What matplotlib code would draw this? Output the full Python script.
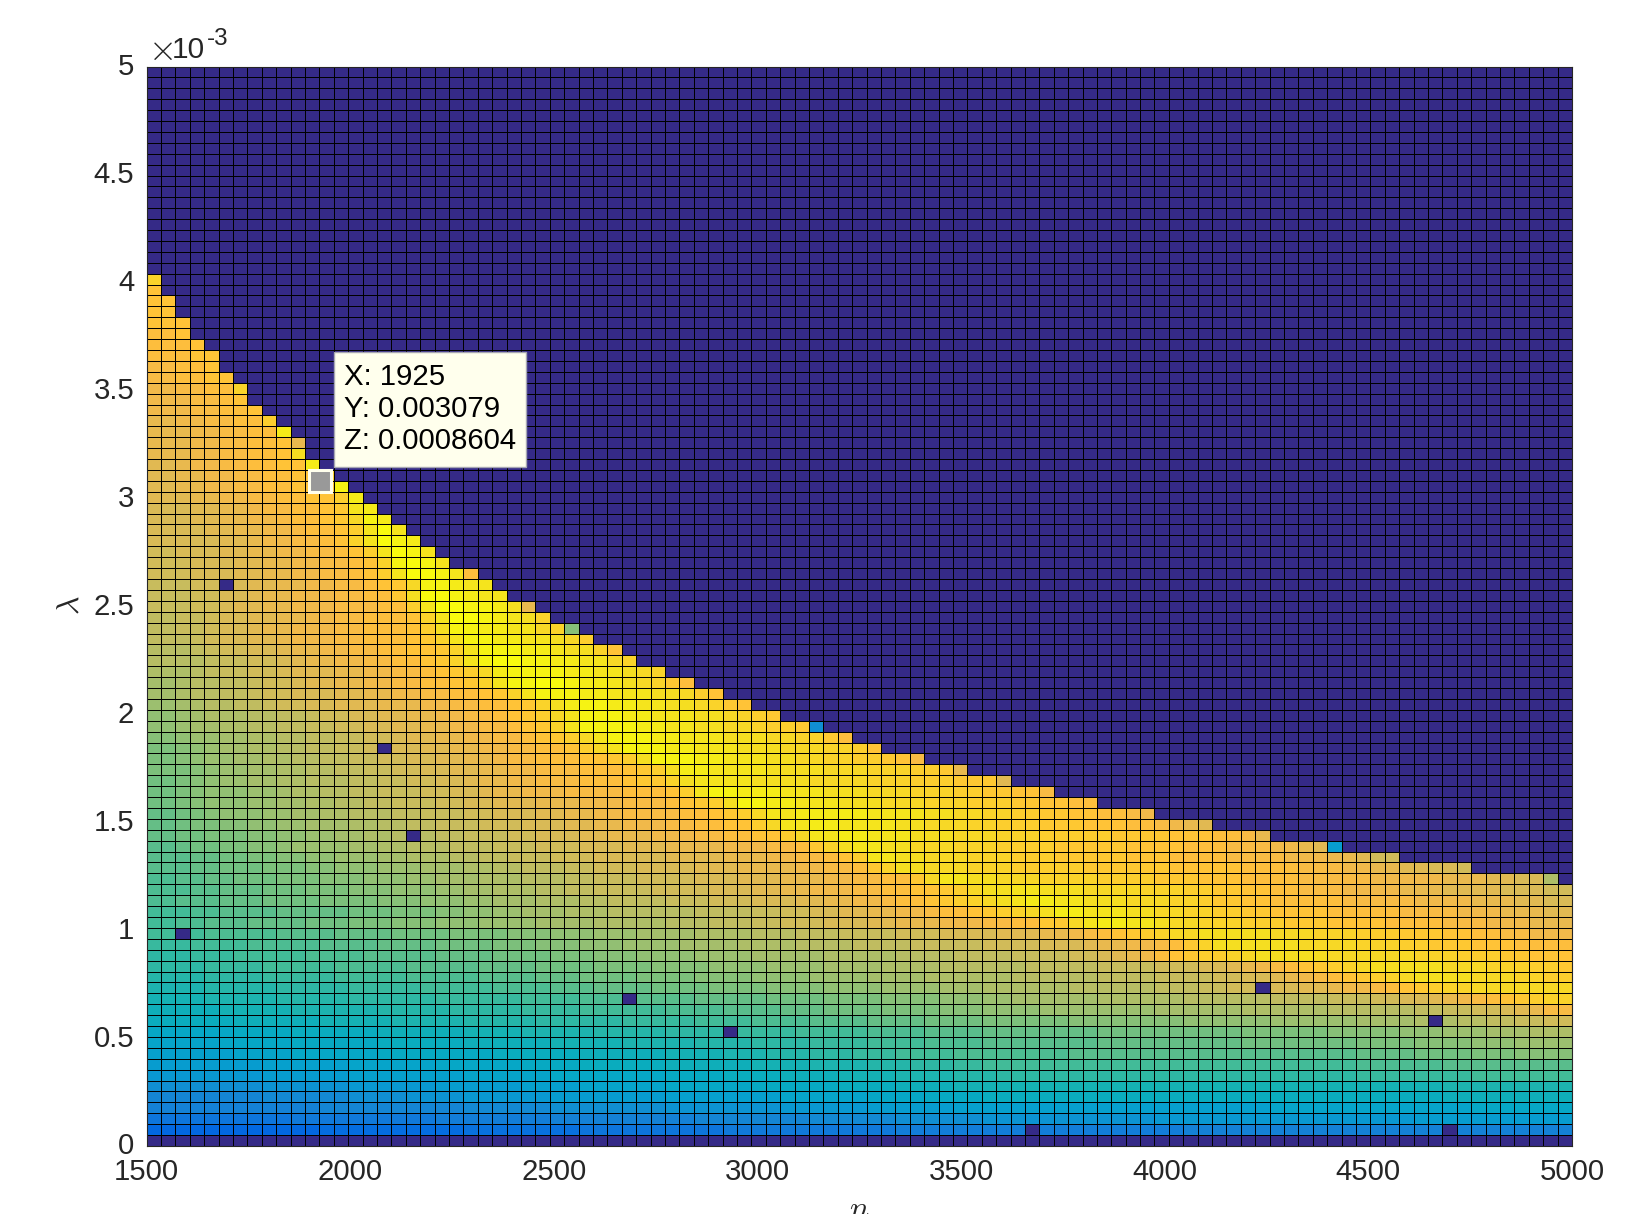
import numpy as np
import matplotlib
matplotlib.use('Agg')
import matplotlib.pyplot as plt
from matplotlib.colors import ListedColormap
from matplotlib.transforms import ScaledTranslation

plt.rcParams['font.family'] = ['Liberation Sans', 'DejaVu Sans']
plt.rcParams['mathtext.fontset'] = 'cm'

# parula, old matlab version, the 64 entries
parula = [
    (0.2081, 0.1663, 0.5292), (0.2116, 0.1898, 0.5777), (0.2123, 0.2138, 0.6270), (0.2081, 0.2386, 0.6771),
    (0.1959, 0.2645, 0.7279), (0.1707, 0.2919, 0.7792), (0.1253, 0.3242, 0.8303), (0.0591, 0.3598, 0.8683),
    (0.0117, 0.3875, 0.8820), (0.0060, 0.4086, 0.8828), (0.0165, 0.4266, 0.8786), (0.0329, 0.4430, 0.8720),
    (0.0498, 0.4586, 0.8641), (0.0629, 0.4737, 0.8554), (0.0723, 0.4887, 0.8467), (0.0779, 0.5040, 0.8384),
    (0.0793, 0.5200, 0.8312), (0.0749, 0.5375, 0.8263), (0.0641, 0.5570, 0.8240), (0.0488, 0.5772, 0.8228),
    (0.0343, 0.5966, 0.8199), (0.0265, 0.6137, 0.8135), (0.0239, 0.6287, 0.8038), (0.0231, 0.6418, 0.7913),
    (0.0228, 0.6535, 0.7768), (0.0267, 0.6642, 0.7607), (0.0384, 0.6743, 0.7436), (0.0590, 0.6838, 0.7254),
    (0.0843, 0.6928, 0.7062), (0.1133, 0.7015, 0.6859), (0.1453, 0.7098, 0.6646), (0.1801, 0.7177, 0.6424),
    (0.2178, 0.7250, 0.6193), (0.2586, 0.7317, 0.5954), (0.3022, 0.7376, 0.5712), (0.3482, 0.7424, 0.5473),
    (0.3953, 0.7459, 0.5244), (0.4420, 0.7481, 0.5033), (0.4871, 0.7491, 0.4840), (0.5300, 0.7491, 0.4661),
    (0.5709, 0.7485, 0.4494), (0.6099, 0.7473, 0.4337), (0.6473, 0.7456, 0.4188), (0.6834, 0.7435, 0.4044),
    (0.7184, 0.7411, 0.3905), (0.7525, 0.7384, 0.3768), (0.7858, 0.7356, 0.3633), (0.8185, 0.7327, 0.3498),
    (0.8507, 0.7299, 0.3360), (0.8824, 0.7274, 0.3217), (0.9139, 0.7258, 0.3063), (0.9450, 0.7261, 0.2886),
    (0.9739, 0.7314, 0.2666), (0.9938, 0.7455, 0.2403), (0.9990, 0.7653, 0.2164), (0.9955, 0.7861, 0.1967),
    (0.9880, 0.8066, 0.1794), (0.9789, 0.8271, 0.1633), (0.9697, 0.8481, 0.1475), (0.9626, 0.8705, 0.1309),
    (0.9589, 0.8949, 0.1132), (0.9598, 0.9218, 0.0948), (0.9661, 0.9514, 0.0755), (0.9763, 0.9831, 0.0538),
]

n_values = np.linspace(1500, 5000, 100)
lambda_values = np.linspace(0, 0.005, 100)

# colour level read per cell, one string per row from lambda=0 upward
# each token is level:end_column, whatever is past the last token stays 0
row_levels = [
    "0:99",
    "9:12 10:22 11:30 12:40 13:52 14:72 15:99",
    "12:10 13:20 14:28 15:38 16:46 17:52 18:58 19:70 20:88 21:99",
    "15:12 16:22 17:28 18:36 19:44 20:50 21:56 22:78 23:92 24:99",
    "16:8 17:14 18:18 19:22 20:28 21:36 22:44 23:50 24:54 25:58 26:90 27:99",
    "18:8 19:14 20:20 21:26 22:30 23:36 24:42 25:48 26:52 27:56 28:90 29:99",
    "20:8 21:14 22:22 23:28 24:36 25:40 26:44 27:48 28:52 29:56 30:59 31:84 32:92 33:99",
    "21:8 22:14 23:20 24:26 25:30 26:36 27:42 28:46 29:50 30:53 31:56 32:58 33:84 34:90 35:99",
    "22:6 23:10 24:16 25:24 26:30 27:36 28:40 29:43 30:46 31:49 32:52 33:56 34:64 35:84 36:88 37:92 38:95 39:99",
    "23:5 24:10 25:16 26:22 27:28 28:33 29:38 30:42 31:46 32:50 33:54 34:58 35:66 36:76 37:84 38:88 39:92 40:95 41:99",
    "24:6 25:10 26:16 27:22 28:26 29:31 30:36 31:41 32:45 33:50 34:54 35:58 36:66 37:76 38:82 39:87 40:90 41:93 42:96 43:99",
    "26:6 27:12 28:17 29:22 30:27 31:33 32:38 33:42 34:46 35:50 36:54 37:58 38:64 39:72 40:78 41:84 42:88 43:91 44:93 45:95 46:97 47:99",
    "27:5 28:10 29:16 30:21 31:26 32:30 33:36 34:40 35:44 36:47 37:51 38:55 39:58 40:62 41:70 42:76 43:82 44:88 45:90 46:92 47:94 48:95 49:96 50:97 52:99",
    "28:4 29:9 30:14 31:20 32:26 33:30 34:33 35:38 36:43 37:47 38:51 39:55 40:58 41:60 42:66 43:72 44:78 45:82 46:85 47:87 48:89 49:90 50:91 51:92 52:93 53:94 54:95 55:96 56:97 57:99",
    "29:4 30:9 31:14 32:19 33:24 34:28 35:31 36:35 37:39 38:43 39:47 40:51 41:55 42:58 43:64 44:70 45:73 46:75 47:78 48:80 49:82 50:83 51:85 52:86 53:87 54:88 55:89 56:90 57:92 58:99",
    "30:4 31:8 32:13 33:18 34:23 35:27 36:30 37:34 38:38 39:42 40:46 41:50 42:54 43:60 44:66 45:70 46:74 47:76 48:78 49:79 50:80 51:81 52:82 53:83 54:84 55:85 56:86 57:87 58:88 59:92 58:95 57:97 56:99",
    "31:4 32:8 33:13 34:18 35:23 36:27 37:31 38:35 39:39 40:43 41:47 42:51 43:55 44:61 45:66 46:70 47:73 48:75 49:76 50:77 51:78 52:79 53:80 54:81 55:82 56:83 57:84 58:85 59:90 58:93 57:96 56:98 55:99",
    "31:3 32:6 33:11 34:15 35:20 36:24 37:28 38:31 39:34 40:38 41:42 42:47 43:52 44:56 45:60 46:64 47:66 48:67 49:68 50:69 51:70 53:71 54:72 55:73 56:75 57:76 58:77 59:82 58:88 57:91 56:94 55:96 54:99",
    "32:3 33:7 34:12 35:16 36:20 37:24 38:27 39:30 40:33 41:37 42:41 43:45 44:49 45:53 46:58 47:62 48:65 49:66 50:68 51:70 52:71 53:72 55:73 57:74 59:80 58:84 57:87 56:89 55:92 54:95 53:99",
    "33:4 34:9 35:13 36:17 37:21 38:25 39:28 40:31 41:34 42:38 43:42 44:45 45:48 46:52 47:55 48:59 49:62 50:64 51:65 52:66 53:67 54:68 55:69 56:70 57:71 58:73 59:78 58:81 57:84 56:87 55:90 54:92 53:94 52:96 51:99",
    "33:2 34:4 35:7 36:11 37:14 38:17 39:20 40:23 41:27 42:31 43:36 44:39 45:42 46:44 47:47 48:50 49:52 50:55 51:58 52:60 53:62 55:64 58:65 60:66 61:68 60:70 59:71 58:73 57:76 56:79 55:82 54:86 53:90 52:93 51:96 50:99",
    "33:3 34:5 35:9 36:14 37:17 38:20 39:22 40:24 41:26 42:29 43:32 44:38 45:42 46:44 47:46 48:48 49:50 50:52 51:54 52:55 53:57 54:58 55:59 56:60 57:61 58:62 59:63 61:65 60:68 59:70 58:72 57:74 56:76 55:78 54:82 53:87 52:91 51:94 50:97 49:99",
    "34:2 35:5 36:8 37:12 38:16 39:19 40:22 41:24 42:27 43:30 44:32 45:36 46:39 47:42 48:45 49:47 50:49 51:51 52:52 53:54 54:55 55:56 56:57 57:58 58:59 59:60 60:61 61:63 60:65 59:68 58:71 57:73 56:74 55:76 54:78 53:83 52:88 51:92 50:95 49:97 48:99",
    "34:3 35:5 36:8 37:11 38:14 39:17 40:20 41:22 42:24 43:27 44:29 45:31 46:35 47:39 48:42 49:44 50:46 51:49 52:51 53:53 54:55 55:56 56:57 58:58 59:60 60:62 59:65 58:69 57:72 56:74 55:76 54:78 53:80 52:83 51:87 50:90 49:94 48:97 47:99",
    "34:2 35:4 36:6 37:9 38:12 39:15 40:18 41:20 42:23 43:26 44:29 45:31 46:34 47:38 48:41 49:44 50:47 51:49 52:51 53:53 55:54 58:55 60:57 59:59 58:62 57:66 56:70 55:73 54:76 53:80 52:85 51:90 50:93 49:95 48:97 43:98",
    "35:3 36:5 37:8 38:11 39:13 40:16 41:19 42:22 43:24 44:26 45:29 46:31 47:34 48:38 49:41 50:45 51:47 52:49 53:50 55:51 57:52 59:54 58:57 57:60 56:65 55:71 54:76 53:80 52:83 51:85 50:87 49:89 48:91 47:92",
    "35:3 36:5 37:7 38:9 39:11 40:13 41:16 42:18 43:21 44:23 45:25 46:28 47:31 48:36 49:40 50:43 51:45 52:47 53:48 54:49 56:50 60:52 59:54 58:57 57:60 56:63 55:68 54:71 53:75 52:79 51:82 50:84 49:85 47:87",
    "35:2 36:3 37:5 38:7 39:9 40:10 41:14 42:16 43:18 44:21 45:24 46:27 47:30 48:33 49:36 50:40 51:43 52:45 53:46 55:47 57:48 59:49 60:51 59:53 58:56 57:59 56:63 55:68 54:72 53:75 52:78 51:80 50:81 49:82 21:83",
    "36:2 37:4 38:7 39:9 40:11 41:13 42:15 43:17 44:20 45:22 46:25 47:27 48:30 49:32 50:35 51:38 52:40 53:42 54:44 56:45 58:46 60:48 61:50 60:53 59:56 58:59 57:62 56:67 55:71 54:74 53:76 52:77 50:78",
    "36:2 37:3 38:5 39:7 40:9 41:11 42:14 43:16 44:18 45:20 46:23 47:26 48:29 49:31 50:33 51:36 52:38 53:40 54:42 56:43 58:44 60:46 61:48 60:52 59:54 58:57 57:59 56:62 55:65 54:68 53:70 52:71 51:72 50:73 49:74",
    "36:2 37:3 38:4 39:5 40:8 41:10 42:12 43:14 44:17 45:19 46:22 47:24 48:27 49:29 50:31 51:33 52:37 53:39 54:40 55:41 56:42 58:43 60:45 61:50 60:54 59:56 58:58 57:60 56:62 55:64 54:66 53:68 52:69 51:70",
    "37:2 38:3 39:4 40:7 41:9 42:11 43:13 44:15 45:17 46:20 47:22 48:24 49:27 50:30 51:33 52:36 53:37 54:38 55:39 56:40 59:41 62:43 61:45 60:48 59:51 58:54 57:57 56:60 55:62 54:64 53:66",
    "37:2 38:3 39:4 40:7 41:9 42:10 43:12 44:14 45:16 46:19 47:21 48:23 49:24 50:26 51:29 52:33 53:36 54:37 56:38 60:39 62:41 61:44 60:47 59:50 58:53 57:56 56:58 55:60 54:62 52:63",
    "37:2 38:3 39:4 40:5 41:7 42:9 43:11 44:14 45:16 46:18 47:20 48:22 49:23 50:25 51:27 52:30 53:33 54:34 55:36 57:37 59:38 60:42 59:46 58:50 57:53 56:56 55:59 49:60",
    "38:3 39:4 40:5 41:7 42:9 43:11 44:13 45:15 46:17 47:19 48:21 49:23 50:25 51:27 52:30 53:33 54:34 55:35 56:36 59:37 61:39 60:43 59:47 58:50 57:53 56:55 55:56 50:57",
    "38:2 39:3 40:4 41:6 42:8 43:10 44:12 45:14 46:16 47:18 48:20 49:22 50:24 51:25 52:27 53:30 54:32 55:33 56:34 59:35 62:38 61:40 60:43 59:45 58:47 57:49 56:51 55:52 54:53 52:54",
    "38:2 39:3 40:4 41:5 42:7 43:9 44:11 45:13 46:15 47:17 48:19 49:21 50:23 51:25 52:27 53:29 54:30 56:31 58:32 60:33 62:36 61:38 60:41 59:44 58:47 57:49 56:50 54:51",
    "39:2 40:3 41:5 42:7 43:9 44:11 45:13 46:15 47:17 48:18 49:20 50:22 51:24 52:26 53:27 54:28 55:29 56:30 58:31 60:32 62:35 61:37 60:40 59:43 58:45 57:47 55:48 53:49",
    "40:2 41:3 42:5 43:7 44:9 45:11 46:13 47:15 48:17 49:19 50:21 51:23 52:25 53:26 54:27 55:28 57:29 60:30 62:34 61:36 60:38 59:40 58:42 57:43 56:45 55:46 18:47",
    "40:2 41:3 42:4 43:7 44:9 45:11 46:12 47:14 48:16 49:18 50:20 51:22 52:24 53:25 54:26 55:27 56:28 58:29 60:30 62:33 61:35 60:38 59:40 58:41 57:42 56:43 55:44",
    "41:2 42:3 43:4 44:6 45:8 46:9 47:11 48:13 49:16 50:19 51:21 52:23 53:25 54:26 55:27 57:28 59:29 61:30 62:32 61:34 60:36 59:38 58:39 57:40 55:41 54:42",
    "42:2 43:3 44:5 45:7 46:8 47:10 48:13 49:15 50:17 51:19 52:21 53:23 54:24 55:25 57:26 60:27 62:30 61:32 60:35 59:37 58:38 56:39 54:40",
    "42:2 43:3 44:5 45:7 46:8 47:10 48:11 49:13 50:15 51:17 52:19 53:21 54:22 55:23 57:24 60:25 62:27 63:29 62:30 61:32 60:33 59:34 58:35 57:36 55:37 53:38",
    "43:3 44:4 45:5 46:7 47:9 48:10 49:13 50:15 51:17 52:19 53:20 54:21 55:22 56:23 58:24 61:25 62:29 61:31 60:33 59:34 58:35 57:36",
    "44:4 45:5 46:7 47:9 48:10 49:11 50:13 51:15 52:17 53:19 54:20 55:21 57:22 60:23 62:24 63:26 62:28 61:30 60:32 58:33 57:34",
    "44:3 45:4 46:5 47:7 48:9 49:10 50:12 51:14 52:16 53:18 54:20 55:21 57:22 60:23 62:26 61:28 60:29 59:31 57:32 54:33",
    "45:3 46:4 47:5 48:7 49:9 50:10 51:13 52:15 53:18 54:19 55:20 57:21 60:22 62:24 61:26 60:28 59:29 58:30 56:31",
    "45:2 46:4 47:5 48:7 49:8 50:10 51:13 52:15 53:18 54:19 56:20 59:21 62:23 61:25 60:27 58:28 57:29 39:30",
    "45:2 46:4 47:5 48:7 49:9 50:11 51:13 52:15 53:18 54:19 57:20 60:21 63:23 62:24 61:25 60:26 59:27 57:28",
    "46:3 47:5 48:6 49:8 50:10 51:13 52:16 53:18 56:19 60:20 63:22 62:24 61:25 59:26 50:27",
    "46:3 47:5 48:7 49:8 50:10 51:13 52:15 53:17 55:18 59:19 63:21 62:22 61:23 60:25",
    "46:3 47:5 48:7 49:9 50:11 51:13 52:15 53:16 54:17 55:18 58:19 62:21 61:22 60:24",
    "47:3 48:6 49:8 50:10 51:12 52:14 53:15 54:16 56:17 60:18 63:20 62:21 60:22 53:23",
    "47:3 48:6 49:8 50:10 51:12 52:14 53:15 54:16 57:17 62:18 63:19 62:20 60:21",
    "47:2 48:5 49:7 50:9 51:11 52:13 53:14 54:15 56:16 60:17 63:18 62:19 60:20",
    "48:5 49:7 50:8 51:10 52:12 53:13 54:14 57:15 60:16 63:17 62:18 61:19",
    "48:4 49:6 50:8 51:10 52:11 53:13 54:14 56:15 60:16 63:17 60:18",
    "48:3 49:5 50:7 51:9 52:10 53:12 54:13 55:14 58:15 62:16 61:17",
    "48:3 49:5 50:7 51:8 52:10 53:12 54:13 55:14 60:15 61:16",
    "49:3 50:5 51:7 52:9 53:11 54:13 56:14 61:15",
    "49:2 50:4 51:6 52:8 53:10 54:12 55:13 62:14",
    "49:2 50:4 51:6 52:8 53:10 54:12 56:13",
    "49:2 50:3 51:5 52:7 53:9 54:11 61:12",
    "50:3 51:5 52:7 53:9 54:10 59:11",
    "50:3 51:5 52:7 53:9 54:10 50:11",
    "50:3 51:5 52:7 53:9 61:10",
    "50:2 51:4 52:6 53:8 56:9",
    "51:3 52:5 53:7 54:8",
    "51:3 52:5 53:6 54:7",
    "51:2 52:4 53:6 57:7",
    "52:2 53:4 54:6",
    "52:2 53:4 54:5",
    "53:3 54:5",
    "53:3 54:4",
    "53:2 54:3",
    "54:3",
    "54:2",
    "54:2",
    "54:1",
    "57:1",
]

# single failed cells, (column, row)
failed_cols = [5, 16, 18, 2, 33, 40, 77, 89, 61, 90]
failed_rows = [51, 36, 28, 19, 13, 10, 14, 11, 1, 1]

xticks = [1500, 2000, 2500, 3000, 3500, 4000, 4500, 5000]
yticks = [0, 0.0005, 0.001, 0.0015, 0.002, 0.0025, 0.003, 0.0035, 0.004, 0.0045, 0.005]
ytick_labels = ['0', '0.5', '1', '1.5', '2', '2.5', '3', '3.5', '4', '4.5', '5']

tip_x = 1925
tip_y = 0.003079
tip_z = 0.0008604


def levels_to_grid(rows):
    grid = np.zeros((99, 99))
    for r, row in enumerate(rows):
        start = 0
        for token in row.split():
            level, end = token.split(':')
            grid[r, start:int(end)] = int(level)
            start = int(end)
    return grid


z = levels_to_grid(row_levels)
z[failed_rows, failed_cols] = 0

W, H = 1639, 1214
fig = plt.figure(figsize=(W / 100, H / 100), dpi=100)
ax = fig.add_axes([146.7 / W, 1 - 1146 / H, 1425.3 / W, 1079.5 / H])

ax.pcolormesh(n_values, lambda_values, z, cmap=ListedColormap(parula), vmin=-0.5, vmax=63.5,
              edgecolors='k', linewidth=0.72)
ax.set_xlim(1500, 5000)
ax.set_ylim(0, 0.005)

text_col = (0.15, 0.15, 0.15)
ax.set_xticks(xticks)
ax.set_yticks(yticks)
ax.set_yticklabels(ytick_labels)
ax.tick_params(direction='in', length=0, labelsize=21.2, labelcolor=text_col, pad=9)
# y labels sit a little high in the original
lift = ScaledTranslation(0, 2.5 / 100, fig.dpi_scale_trans)
for label in ax.get_yticklabels():
    label.set_transform(label.get_transform() + lift)
for side in ax.spines.values():
    side.set_linewidth(0.8)
    side.set_color(text_col)

# offset text above the axis
fig.text(148 / W, 1 - 60 / H, r'$\times$', fontsize=26, color=text_col, ha='left', va='baseline')
fig.text(172 / W, 1 - 58 / H, '10', fontsize=21.5, color=text_col, ha='left', va='baseline')
fig.text(207 / W, 1 - 45 / H, '-3', fontsize=17.5, color=text_col, ha='left', va='baseline')

fig.text(859 / W, 1 - 1218 / H, r'$n$', fontsize=23, color=text_col, ha='center', va='baseline')
fig.text(71 / W, 1 - 605 / H, r'$\lambda$', fontsize=23, color=text_col, rotation=90, ha='center', va='center')

# data tip
ax.plot([tip_x], [tip_y], 's', ms=16.5, mew=2.2, mfc=(0.6, 0.6, 0.6), mec=(1, 1, 0.93), zorder=5, clip_on=False)
tip = plt.Rectangle((334 / W, 1 - 467 / H), 192 / W, 115 / H, transform=fig.transFigure,
                    fc=(1, 1, 0.93), ec=(0.65, 0.65, 0.7), lw=1.0, zorder=6)
fig.add_artist(tip)
tip_lines = ['X: %d' % tip_x, 'Y: %.6f' % tip_y, 'Z: %.7f' % tip_z]
for i, line in enumerate(tip_lines):
    fig.text(344 / W, 1 - (377 + 32 * i) / H, line, fontsize=21.2, color='k', ha='left', va='center', zorder=7)

fig.savefig('out.png', dpi=100)
